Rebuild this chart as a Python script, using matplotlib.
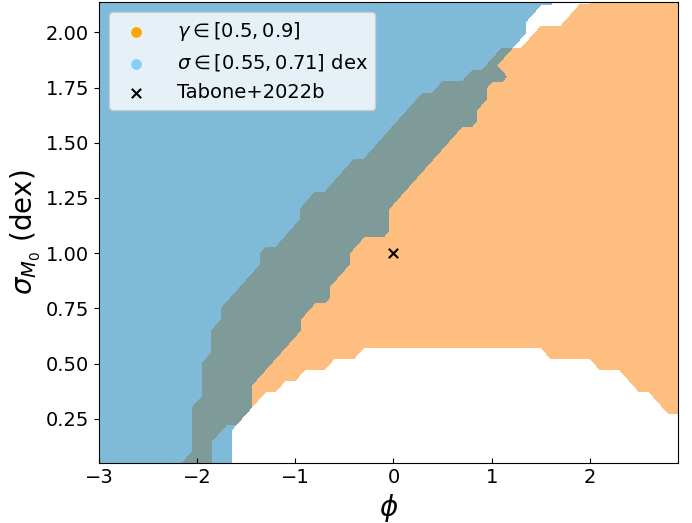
import matplotlib
matplotlib.use("Agg")
import matplotlib.pyplot as plt
import numpy as np

# grid of the parameter scan
phi = np.round(np.arange(-3.0, 2.95, 0.1), 2)
sigma = np.round(np.arange(0.05, 2.16, 0.05), 2)

# per sigma row
# right edge of the sigma-constraint (blue) region
blue_right = [-1.66, -1.66, -1.66, -1.62, -1.57, -1.50, -1.45, -1.44, -1.32, -1.22,
              -1.20, -1.07, -0.98, -0.95, -0.83, -0.69, -0.63, -0.60, -0.47, -0.47,
              -0.40, -0.10, -0.08, -0.02, 0.07, 0.13, 0.24, 0.35, 0.41, 0.50,
              0.67, 0.80, 0.84, 0.90, 0.99, 1.10, 1.05, 1.17, 1.20, 1.33,
              1.36, 1.48, 1.60]
# left edge of the gamma-constraint (orange) region
orange_left = [-2.10, -2.03, -2.03, -2.03, -2.03, -2.00, -1.98, -1.96, -1.95, -1.92,
               -1.88, -1.85, -1.81, -1.77, -1.70, -1.62, -1.57, -1.47, -1.37, -1.30,
               -1.13, -1.04, -0.98, -0.91, -0.81, -0.69, -0.56, -0.40, -0.25, -0.18,
               -0.08, 0.02, 0.13, 0.28, 0.47, 0.74, 0.95, 1.10, 1.35, 1.50,
               1.75, 1.89, 2.09]
# empty (white) gap inside the orange band at low sigma
gap_lo = [-1.81, -1.81, -1.81, -1.72, -1.60, -1.50, -1.35, -1.20, -0.95, -0.70, -0.35]
gap_hi = [3.00, 3.00, 3.00, 3.00, 2.92, 2.78, 2.65, 2.50, 2.32, 2.05, 1.60]

P, S = np.meshgrid(phi, sigma)
br = np.array(blue_right)[:, None]
ol = np.array(orange_left)[:, None]
lo = np.full(len(sigma), 9.0)
hi = np.full(len(sigma), 9.0)
lo[:len(gap_lo)] = gap_lo
hi[:len(gap_hi)] = gap_hi
in_gap = (P > lo[:, None]) & (P < hi[:, None])

gamma_ok = ((P >= ol) & ~in_gap).astype(float)
sig_ok = (P <= br).astype(float)

fig = plt.figure(figsize=(6.92, 5.23), dpi=100)
ax = fig.add_axes([0.143, 0.1147, 0.837, 0.881])

ax.contourf(P, S, gamma_ok, levels=[0.5, 1.5], colors=['#fd7e02'], alpha=0.5)
ax.contourf(P, S, sig_ok, levels=[0.5, 1.5], colors=['#0079b5'], alpha=0.5)
ax.scatter([0], [1.0], marker='x', color='k', s=45, zorder=5)

ax.scatter([], [], color='orange', s=45, label=r'$\gamma \in [0.5, 0.9]$')
ax.scatter([], [], color='lightskyblue', s=45, label=r'$\sigma \in [0.55, 0.71]$ dex')
ax.scatter([], [], marker='x', color='k', s=45, label='Tabone+2022b')

ax.set_xlim(-3.0, 2.9)
ax.set_ylim(0.05, 2.136)
ax.set_xticks([-3, -2, -1, 0, 1, 2])
ax.set_yticks([0.25, 0.5, 0.75, 1.0, 1.25, 1.5, 1.75, 2.0])
ax.tick_params(axis='both', labelsize=14)
ax.tick_params(axis='x', direction='in')
ax.set_xlabel(r'$\phi$', fontsize=20)
ax.set_ylabel(r'$\sigma_{M_0}$ (dex)', fontsize=20, labelpad=2)
ax.legend(loc='upper left', fontsize=14, handletextpad=1.1)

fig.savefig('out.png', dpi=100)
